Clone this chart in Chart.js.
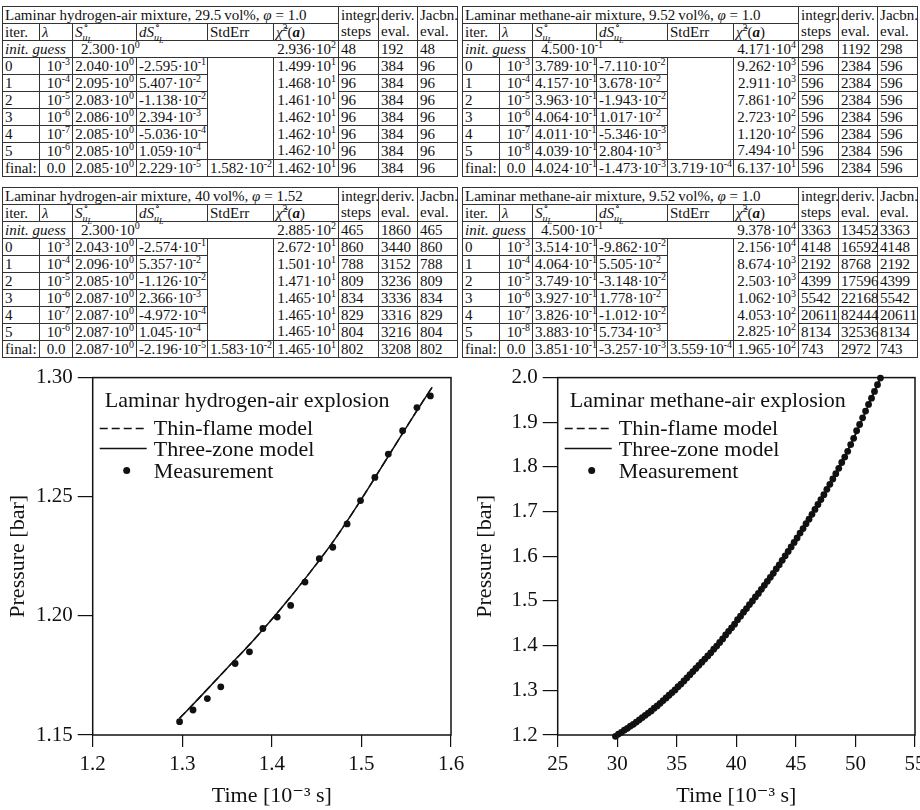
<!DOCTYPE html>
<html>
<head>
<meta charset="utf-8">
<script src="https://cdn.jsdelivr.net/npm/chart.js@4.4.1/dist/chart.umd.min.js"></script>
<style>
  html, body { margin: 0; padding: 0; background: #fff; }
  body { width: 920px; height: 810px; position: relative; overflow: hidden; }
  table.it {
    position: absolute; border-collapse: collapse; table-layout: fixed; width: 455px;
    font-family: "Liberation Serif", "DejaVu Serif", serif; font-size: 15px; color: #111;
  }
  table.it td {
    border: 1px solid #333; padding: 0 2px; height: 16px; line-height: 15px;
    white-space: nowrap; overflow: visible;
  }
  table.it sup { font-size: 10px; line-height: 0; vertical-align: 6px; }
  .r { text-align: right; }
  .c { text-align: center; }
  td.nb { border-bottom: none !important; }
  td.nt { border-top: none !important; }
  td.nv { border-top: none !important; border-bottom: none !important; }
  .ss { display: inline-block; position: relative; width: 13px; height: 10px; }
  .ss .dg { position: absolute; left: 1px; top: -9px; font-size: 10px; }
  .ss .sb { position: absolute; left: 0; top: 3px; font-size: 10px; font-style: italic; }
  .ss .sb2 { font-size: 8px; position: relative; top: 2px; }
  canvas { position: absolute; top: 360px; }
</style>
</head>
<body>
<table class="it" id="tA" style="left:2px;top:6px"></table>
<table class="it" id="tB" style="left:462px;top:6px"></table>
<table class="it" id="tC" style="left:2px;top:187px"></table>
<table class="it" id="tD" style="left:462px;top:187px"></table>
<canvas id="h2" width="480" height="450" style="left:0px"></canvas>
<canvas id="ch4" width="480" height="450" style="left:460px"></canvas>
<script>
// ---- table data: [iter, lambda exponent, S_uL, dS_uL, chi2, steps, deriv, jac]
const colWidths = [37, 33, 64, 71, 66, 65, 40, 39, 40];

const titleA = 'Laminar hydrogen-air mixture, 29.5&#8201;vol%, <i>φ</i> = 1.0';
const initA = ['2.300e0', '2.936e2', 48, 192, 48];
const rowsA = [
  ['0', '-3', '2.040e0', '-2.595e-1', '1.499e1', 96, 384, 96],
  ['1', '-4', '2.095e0', '5.407e-2', '1.468e1', 96, 384, 96],
  ['2', '-5', '2.083e0', '-1.138e-2', '1.461e1', 96, 384, 96],
  ['3', '-6', '2.086e0', '2.394e-3', '1.462e1', 96, 384, 96],
  ['4', '-7', '2.085e0', '-5.036e-4', '1.462e1', 96, 384, 96],
  ['5', '-6', '2.085e0', '1.059e-4', '1.462e1', 96, 384, 96]
];
const finalA = ['0.0', '2.085e0', '2.229e-5', '1.582e-2', '1.462e1', 96, 384, 96];

const titleB = 'Laminar methane-air mixture, 9.52&#8201;vol%, <i>φ</i> = 1.0';
const initB = ['4.500e-1', '4.171e4', 298, 1192, 298];
const rowsB = [
  ['0', '-3', '3.789e-1', '-7.110e-2', '9.262e3', 596, 2384, 596],
  ['1', '-4', '4.157e-1', '3.678e-2', '2.911e3', 596, 2384, 596],
  ['2', '-5', '3.963e-1', '-1.943e-2', '7.861e2', 596, 2384, 596],
  ['3', '-6', '4.064e-1', '1.017e-2', '2.723e2', 596, 2384, 596],
  ['4', '-7', '4.011e-1', '-5.346e-3', '1.120e2', 596, 2384, 596],
  ['5', '-8', '4.039e-1', '2.804e-3', '7.494e1', 596, 2384, 596]
];
const finalB = ['0.0', '4.024e-1', '-1.473e-3', '3.719e-4', '6.137e1', 596, 2384, 596];

const titleC = 'Laminar hydrogen-air mixture, 40&#8201;vol%, <i>φ</i> = 1.52';
const initC = ['2.300e0', '2.885e2', 465, 1860, 465];
const rowsC = [
  ['0', '-3', '2.043e0', '-2.574e-1', '2.672e1', 860, 3440, 860],
  ['1', '-4', '2.096e0', '5.357e-2', '1.501e1', 788, 3152, 788],
  ['2', '-5', '2.085e0', '-1.126e-2', '1.471e1', 809, 3236, 809],
  ['3', '-6', '2.087e0', '2.366e-3', '1.465e1', 834, 3336, 834],
  ['4', '-7', '2.087e0', '-4.972e-4', '1.465e1', 829, 3316, 829],
  ['5', '-6', '2.087e0', '1.045e-4', '1.465e1', 804, 3216, 804]
];
const finalC = ['0.0', '2.087e0', '-2.196e-5', '1.583e-2', '1.465e1', 802, 3208, 802];

const titleD = 'Laminar methane-air mixture, 9.52&#8201;vol%, <i>φ</i> = 1.0';
const initD = ['4.500e-1', '9.378e4', 3363, 13452, 3363];
const rowsD = [
  ['0', '-3', '3.514e-1', '-9.862e-2', '2.156e4', 4148, 16592, 4148],
  ['1', '-4', '4.064e-1', '5.505e-2', '8.674e3', 2192, 8768, 2192],
  ['2', '-5', '3.749e-1', '-3.148e-2', '2.503e3', 4399, 17596, 4399],
  ['3', '-6', '3.927e-1', '1.778e-2', '1.062e3', 5542, 22168, 5542],
  ['4', '-7', '3.826e-1', '-1.012e-2', '4.053e2', 20611, 82444, 20611],
  ['5', '-8', '3.883e-1', '5.734e-3', '2.825e2', 8134, 32536, 8134]
];
const finalD = ['0.0', '3.851e-1', '-3.257e-3', '3.559e-4', '1.965e2', 743, 2972, 743];

// ---- hydrogen explosion (left plot)
const h2TimeTicks = [1.2, 1.3, 1.4, 1.5, 1.6];
const h2PressureTicks = [1.15, 1.20, 1.25, 1.30];
const h2Time = [1.297, 1.312, 1.328, 1.343, 1.359, 1.375, 1.390, 1.406, 1.421, 1.437,
                1.453, 1.468, 1.484, 1.499, 1.515, 1.530, 1.546, 1.562, 1.577];
const h2Pressure = [1.1556, 1.1605, 1.1653, 1.1702, 1.1800, 1.1849, 1.1947, 1.1995, 1.2044, 1.2142,
                    1.2240, 1.2288, 1.2386, 1.2484, 1.2581, 1.2679, 1.2777, 1.2874, 1.2923];
const h2ModelTime = [1.297, 1.32, 1.35, 1.38, 1.41, 1.44, 1.47, 1.50, 1.53, 1.56, 1.579];
const h2ThinFlame = [1.157, 1.166, 1.178, 1.190, 1.203, 1.217, 1.232, 1.249, 1.267, 1.285, 1.296];
const h2ThreeZone = [1.157, 1.166, 1.178, 1.190, 1.203, 1.217, 1.232, 1.249, 1.267, 1.285, 1.296];

// ---- methane explosion (right plot)
const ch4TimeTicks = [25, 30, 35, 40, 45, 50, 55];
const ch4PressureTicks = [1.2, 1.3, 1.4, 1.5, 1.6, 1.7, 1.8, 1.9, 2.0];
const ch4Time = [29.85, 30.10, 30.35, 30.60, 30.85, 31.10, 31.35, 31.60, 31.85, 32.10,
                 32.35, 32.60, 32.85, 33.10, 33.35, 33.60, 33.85, 34.10, 34.35, 34.60,
                 34.85, 35.10, 35.35, 35.60, 35.85, 36.10, 36.35, 36.60, 36.85, 37.10,
                 37.35, 37.60, 37.85, 38.10, 38.35, 38.60, 38.85, 39.10, 39.35, 39.60,
                 39.85, 40.10, 40.35, 40.60, 40.85, 41.10, 41.35, 41.60, 41.85, 42.10,
                 42.35, 42.60, 42.85, 43.10, 43.35, 43.60, 43.85, 44.10, 44.35, 44.60,
                 44.85, 45.10, 45.35, 45.60, 45.85, 46.10, 46.35, 46.60, 46.85, 47.10,
                 47.35, 47.60, 47.85, 48.10, 48.35, 48.60, 48.85, 49.10, 49.35, 49.60,
                 49.85, 50.10, 50.35, 50.60, 50.85, 51.10, 51.35, 51.60, 51.85, 52.10];
const ch4Pressure = [1.197, 1.202, 1.206, 1.211, 1.215, 1.220, 1.224, 1.229, 1.234, 1.239,
                     1.244, 1.249, 1.254, 1.260, 1.265, 1.271, 1.277, 1.283, 1.289, 1.295,
                     1.301, 1.308, 1.314, 1.321, 1.328, 1.335, 1.342, 1.349, 1.356, 1.363,
                     1.370, 1.377, 1.384, 1.392, 1.399, 1.407, 1.415, 1.424, 1.432, 1.440,
                     1.448, 1.458, 1.466, 1.475, 1.483, 1.492, 1.500, 1.509, 1.517, 1.526,
                     1.535, 1.544, 1.553, 1.562, 1.572, 1.581, 1.591, 1.601, 1.611, 1.621,
                     1.631, 1.641, 1.652, 1.662, 1.673, 1.683, 1.694, 1.705, 1.716, 1.727,
                     1.738, 1.750, 1.761, 1.773, 1.785, 1.797, 1.810, 1.822, 1.835, 1.850,
                     1.864, 1.881, 1.895, 1.910, 1.925, 1.940, 1.954, 1.969, 1.984, 1.999];
const ch4ModelTime = [29.9, 32.0, 34.0, 36.0, 38.0, 40.0, 42.0, 44.0, 46.0, 48.0, 50.0, 52.1];
const ch4ThinFlame = [1.198, 1.237, 1.281, 1.332, 1.389, 1.454, 1.522, 1.597, 1.679, 1.768, 1.873, 2.0];
const ch4ThreeZone = [1.198, 1.237, 1.281, 1.332, 1.389, 1.454, 1.522, 1.597, 1.679, 1.768, 1.873, 2.0];

// ---------------------------------------------------------------- tables
function sci(s) {
  const [m, e] = s.split('e');
  return m + '·10<sup>' + e + '</sup>';
}

const SUL = '<i>S</i><span class="ss"><span class="dg">∘</span><span class="sb">u<span class="sb2">L</span></span></span>';

function buildTable(id, title, init, rows, fin) {
  let h = '<colgroup>' + colWidths.map(w => '<col style="width:' + w + 'px">').join('') + '</colgroup>';
  h += '<tr><td colspan="6">' + title + '</td><td class="nb">integr.</td><td class="nb">deriv.</td><td class="nb">Jacbn.</td></tr>';
  h += '<tr><td>iter.</td><td><i>λ</i></td><td>' + SUL + '</td><td><i>d</i>' + SUL + '</td><td>StdErr</td>' +
       '<td><i>χ̃</i><sup>2</sup>(<b><i>a</i></b>)</td><td class="nt">steps</td><td class="nt">eval.</td><td class="nt">eval.</td></tr>';
  h += '<tr><td colspan="2"><i>init. guess</i></td><td colspan="3" style="border-right:none;padding-left:8px">' + sci(init[0]) +
       '</td><td class="r" style="border-left:none">' + sci(init[1]) + '</td><td>' + init[2] + '</td><td>' + init[3] +
       '</td><td>' + init[4] + '</td></tr>';
  rows.forEach((r, i) => {
    h += '<tr><td>' + r[0] + '</td><td class="r">10<sup>' + r[1] + '</sup></td><td class="c">' + sci(r[2]) +
         '</td><td>' + sci(r[3]) + '</td>' + (i === 0 ? '<td rowspan="6"></td>' : '') +
         '<td class="r nv">' + sci(r[4]) + '</td><td>' + r[5] + '</td><td>' + r[6] + '</td><td>' + r[7] + '</td></tr>';
  });
  h += '<tr><td>final:</td><td class="c">' + fin[0] + '</td><td class="c">' + sci(fin[1]) + '</td><td>' + sci(fin[2]) +
       '</td><td class="c">' + sci(fin[3]) + '</td><td class="r">' + sci(fin[4]) + '</td><td>' + fin[5] +
       '</td><td>' + fin[6] + '</td><td>' + fin[7] + '</td></tr>';
  document.getElementById(id).innerHTML = h;
}

buildTable('tA', titleA, initA, rowsA, finalA);
buildTable('tB', titleB, initB, rowsB, finalB);
buildTable('tC', titleC, initC, rowsC, finalC);
buildTable('tD', titleD, initD, rowsD, finalD);

// ---------------------------------------------------------------- plots
const serif = '"Liberation Serif", "DejaVu Serif", serif';
const ink = '#111';

function zip(xs, ys) {
  return xs.map((x, i) => ({ x: x, y: ys[i] }));
}

// box around the plot area
const framePlugin = {
  id: 'frame',
  beforeDatasetsDraw(chart) {
    const { ctx, chartArea: a } = chart;
    ctx.save();
    ctx.strokeStyle = ink;
    ctx.lineWidth = 1.5;
    ctx.strokeRect(a.left, a.top, a.right - a.left, a.bottom - a.top);
    ctx.restore();
  }
};

// key in the upper left corner, with a heading line
const keyPlugin = {
  id: 'key',
  afterDraw(chart, args, opts) {
    const { ctx, chartArea: a } = chart;
    const ds = chart.data.datasets;
    const x0 = a.left, y0 = a.top;
    ctx.save();
    ctx.fillStyle = ink;
    ctx.strokeStyle = ink;
    ctx.font = '22px ' + serif;
    ctx.textBaseline = 'alphabetic';
    ctx.fillText(opts.title, x0 + 12, y0 + 29);
    ctx.fillText(ds[0].label, x0 + 61, y0 + 57);
    ctx.fillText(ds[1].label, x0 + 61, y0 + 78);
    ctx.fillText(ds[2].label, x0 + 61, y0 + 100);
    ctx.lineWidth = 1.5;
    ctx.setLineDash([8, 4]);
    ctx.beginPath(); ctx.moveTo(x0 + 7, y0 + 51); ctx.lineTo(x0 + 53, y0 + 51); ctx.stroke();
    ctx.setLineDash([]);
    ctx.beginPath(); ctx.moveTo(x0 + 7, y0 + 71); ctx.lineTo(x0 + 54, y0 + 71); ctx.stroke();
    ctx.beginPath(); ctx.arc(x0 + 34, y0 + 93, 3.5, 0, Math.PI * 2); ctx.fill();
    ctx.restore();
  }
};

function makeScales(xTicks, yTicks, xDec, yDec, yWidth, yTitlePad) {
  const tickFont = { family: serif, size: 21 };
  const titleFont = { family: serif, size: 22 };
  return {
    x: {
      type: 'linear',
      min: xTicks[0],
      max: xTicks[xTicks.length - 1],
      afterBuildTicks: s => { s.ticks = xTicks.map(v => ({ value: v })); },
      afterFit: s => { s.height = 75; },
      ticks: { font: tickFont, color: ink, padding: 5, maxRotation: 0, autoSkip: false,
               callback: v => Number(v).toFixed(xDec) },
      grid: { drawOnChartArea: false, drawTicks: true, tickLength: 12, color: ink, lineWidth: 1.2 },
      border: { display: false },
      title: { display: true, text: 'Time [10⁻³ s]', font: titleFont, color: ink, padding: { top: 0, bottom: 1 } }
    },
    y: {
      type: 'linear',
      min: yTicks[0],
      max: yTicks[yTicks.length - 1],
      afterBuildTicks: s => { s.ticks = yTicks.map(v => ({ value: v })); },
      afterFit: s => { s.width = yWidth; },
      ticks: { font: tickFont, color: ink, padding: 5, autoSkip: false,
               callback: v => Number(v).toFixed(yDec) },
      grid: { drawOnChartArea: false, drawTicks: true, tickLength: 15, color: ink, lineWidth: 1.2 },
      border: { display: false },
      title: { display: true, text: 'Pressure [bar]', font: titleFont, color: ink, padding: { top: yTitlePad, bottom: 0 } }
    }
  };
}

function makeDatasets(modelT, thin, three, measT, measP) {
  return [
    { label: 'Thin-flame model', data: zip(modelT, thin), showLine: true, borderColor: ink, borderWidth: 1.5,
      borderDash: [8, 4], pointRadius: 0, cubicInterpolationMode: 'monotone', clip: false },
    { label: 'Three-zone model', data: zip(modelT, three), showLine: true, borderColor: ink, borderWidth: 1.5,
      pointRadius: 0, cubicInterpolationMode: 'monotone', clip: false },
    { label: 'Measurement', data: zip(measT, measP), showLine: false, pointRadius: 3.4,
      backgroundColor: ink, borderColor: ink, borderWidth: 0, clip: false }
  ];
}

new Chart(document.getElementById('h2'), {
  type: 'scatter',
  data: { datasets: makeDatasets(h2ModelTime, h2ThinFlame, h2ThreeZone, h2Time, h2Pressure) },
  options: {
    responsive: false,
    animation: false,
    devicePixelRatio: 1,
    events: [],
    layout: { padding: { top: 17, right: 29, bottom: 0, left: 0 } },
    scales: makeScales(h2TimeTicks, h2PressureTicks, 1, 2, 92.7, 5.4),
    plugins: {
      legend: { display: false },
      tooltip: { enabled: false },
      key: { title: 'Laminar hydrogen-air explosion' }
    }
  },
  plugins: [framePlugin, keyPlugin]
});

new Chart(document.getElementById('ch4'), {
  type: 'scatter',
  data: { datasets: makeDatasets(ch4ModelTime, ch4ThinFlame, ch4ThreeZone, ch4Time, ch4Pressure) },
  options: {
    responsive: false,
    animation: false,
    devicePixelRatio: 1,
    events: [],
    layout: { padding: { top: 17, right: 25, bottom: 0, left: 0 } },
    scales: makeScales(ch4TimeTicks, ch4PressureTicks, 0, 1, 97.7, 12.4),
    plugins: {
      legend: { display: false },
      tooltip: { enabled: false },
      key: { title: 'Laminar methane-air explosion' }
    }
  },
  plugins: [framePlugin, keyPlugin]
});
</script>
</body>
</html>
